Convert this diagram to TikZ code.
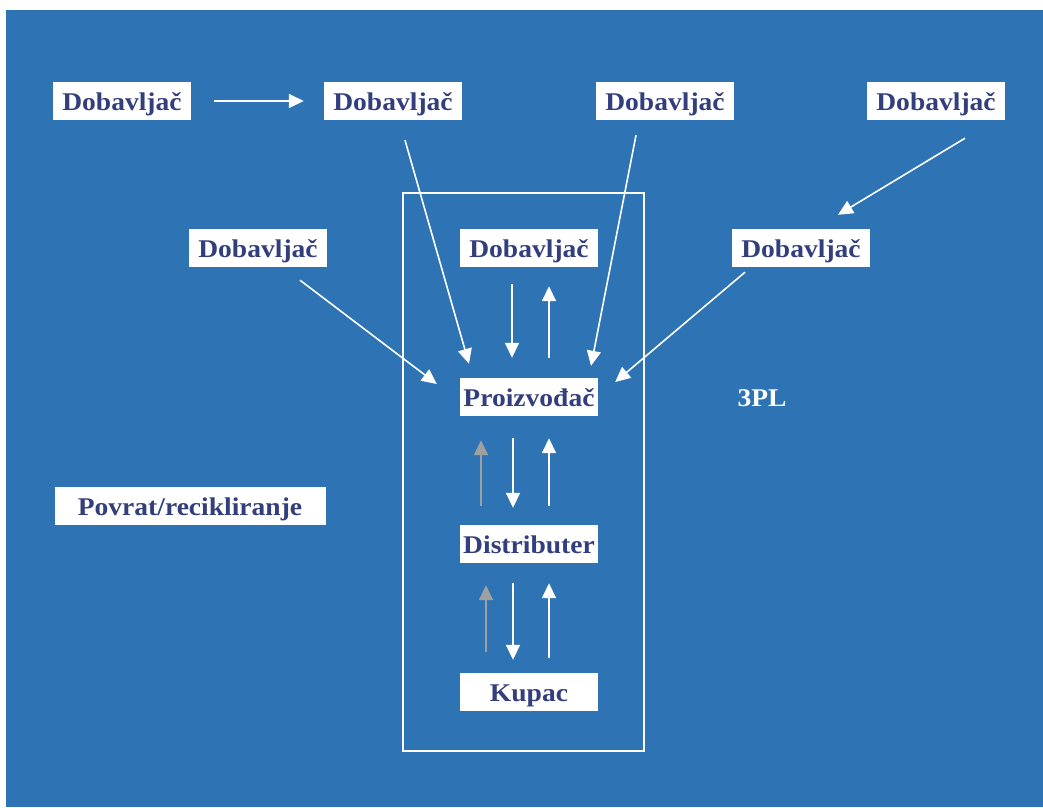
\documentclass[tikz,border=0pt]{standalone}
\usepackage{fontspec}
\setmainfont{Liberation Serif}[FakeStretch=1.08]
\usetikzlibrary{arrows.meta,calc}
\definecolor{bgblue}{RGB}{46,116,181}
\definecolor{navy}{RGB}{51,62,125}
\definecolor{grayarr}{RGB}{160,160,160}
\begin{document}
\begin{tikzpicture}[x=1pt,y=-1pt,
  box/.style={fill=white,draw=none,text=navy,font=\fontsize{25.5}{30}\selectfont\bfseries,
    minimum width=138,minimum height=38,inner sep=0pt,text height=18pt,text depth=0pt,anchor=center},
  arr/.style={draw=white,line width=1.6pt,-{Triangle[length=15pt,width=14pt]}},
  garr/.style={draw=grayarr,line width=1.6pt,-{Triangle[length=15pt,width=14pt]}}]
\useasboundingbox (0,0) rectangle (1043,807);
\fill[white] (0,0) rectangle (1043,807);
\fill[bgblue] (6,10) rectangle (1043,807);
% frame
\draw[white,line width=2pt] (403,193) rectangle (644,751);
% nodes
\node[box] (D1) at (122,101) {Dobavljač};
\node[box] (D2) at (393,101) {Dobavljač};
\node[box] (D3) at (665,101) {Dobavljač};
\node[box] (D4) at (936,101) {Dobavljač};
\node[box] (D5) at (258,248) {Dobavljač};
\node[box] (D6) at (801,248) {Dobavljač};
\node[box] (D7) at (529,248) {Dobavljač};
\node[box] (P) at (529,397) {Proizvođač};
\node[box] (Ds) at (529,544) {Distributer};
\node[box] (K) at (529,692) {Kupac};
\node[box,minimum width=271] (R) at (190,506) {Povrat/recikliranje};
\node[text=white,font=\fontsize{25.5}{30}\selectfont\bfseries,inner sep=0pt] (T) at (762,398) {3PL};
% outer arrows
\draw[arr] ($(D1.east)+(23,0)$) -- ($(D2.west)+(-20,0)$);
\draw[arr] ($(D2.south)+(12,20)$) -- ($(P.north)+(-60,-14)$);
\draw[arr] ($(D3.south)+(-29,15)$) -- ($(P.north)+(62,-12)$);
\draw[arr] ($(D4.south)+(29,18)$) -- ($(D6.north)+(37,-14)$);
\draw[arr] ($(D5.south)+(42,13)$) -- ($(P.west)+(-23,-13)$);
\draw[arr] ($(D6.south)+(-56,5)$) -- ($(P.east)+(17,-15)$);
% D7 - P
\draw[arr] ($(D7.south)+(-17,17)$) -- ($(P.north)+(-17,-20)$);
\draw[arr] ($(P.north)+(20,-20)$) -- ($(D7.south)+(20,19)$);
% P - Distributer
\draw[garr] ($(Ds.north)+(-48,-19)$) -- ($(P.south)+(-48,24)$);
\draw[arr] ($(P.south)+(-16,22)$) -- ($(Ds.north)+(-16,-17)$);
\draw[arr] ($(Ds.north)+(20,-19)$) -- ($(P.south)+(20,22)$);
% Distributer - Kupac
\draw[garr] ($(K.north)+(-43,-21)$) -- ($(Ds.south)+(-43,22)$);
\draw[arr] ($(Ds.south)+(-16,20)$) -- ($(K.north)+(-16,-13)$);
\draw[arr] ($(K.north)+(20,-15)$) -- ($(Ds.south)+(20,20)$);
\end{tikzpicture}
\end{document}
